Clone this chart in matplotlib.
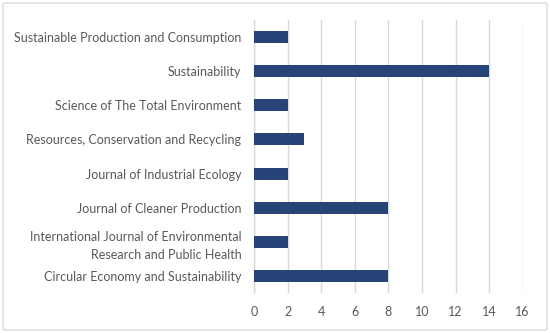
import matplotlib
matplotlib.use("Agg")
import matplotlib.pyplot as plt
from matplotlib.patches import FancyBboxPatch

categories = [
    "Circular Economy and Sustainability",
    "International Journal of Environmental\nResearch and Public Health",
    "Journal of Cleaner Production",
    "Journal of Industrial Ecology",
    "Resources, Conservation and Recycling",
    "Science of The Total Environment",
    "Sustainability",
    "Sustainable Production and Consumption",
]
values = [8, 2, 8, 2, 3, 2, 14, 2]
xticks = [0, 2, 4, 6, 8, 10, 12, 14, 16]

plt.rcParams['font.family'] = ['Lato', 'DejaVu Sans']
text_color = "#595959"
bar_color = "#264478"

fig = plt.figure(figsize=(5.5, 3.33), dpi=100)
ax = fig.add_axes([254/550, 1-293/333, (522.7-254)/550, (293-20)/333])

ax.barh(range(len(categories)), values, height=0.35, color=bar_color, zorder=3)
ax.set_xlim(0, 16)
ax.set_ylim(-0.5, len(categories)-0.5)
ax.set_xticks(xticks)
ax.set_xticklabels([str(t) for t in xticks])
ax.set_yticks(range(len(categories)))
ax.set_yticklabels(categories)
ax.grid(axis='x', color="#d9d9d9", linewidth=1, zorder=0)
for s in ['top', 'right', 'bottom']:
    ax.spines[s].set_visible(False)
ax.spines['left'].set_color("#d9d9d9")
ax.spines['left'].set_linewidth(1)
ax.tick_params(axis='both', length=0, colors=text_color, labelsize=9.0)
ax.tick_params(axis='y', pad=9)
ax.tick_params(axis='x', pad=9)
for lbl in ax.get_yticklabels():
    lbl.set_linespacing(1.6)

border = FancyBboxPatch((3/550, 3/333), 544/550, 327/333,
                        boxstyle="round,pad=0,rounding_size=0.005",
                        transform=fig.transFigure, fill=False,
                        edgecolor="#d9d9d9", linewidth=1)
fig.patches.append(border)

fig.savefig("out.png", dpi=100)
